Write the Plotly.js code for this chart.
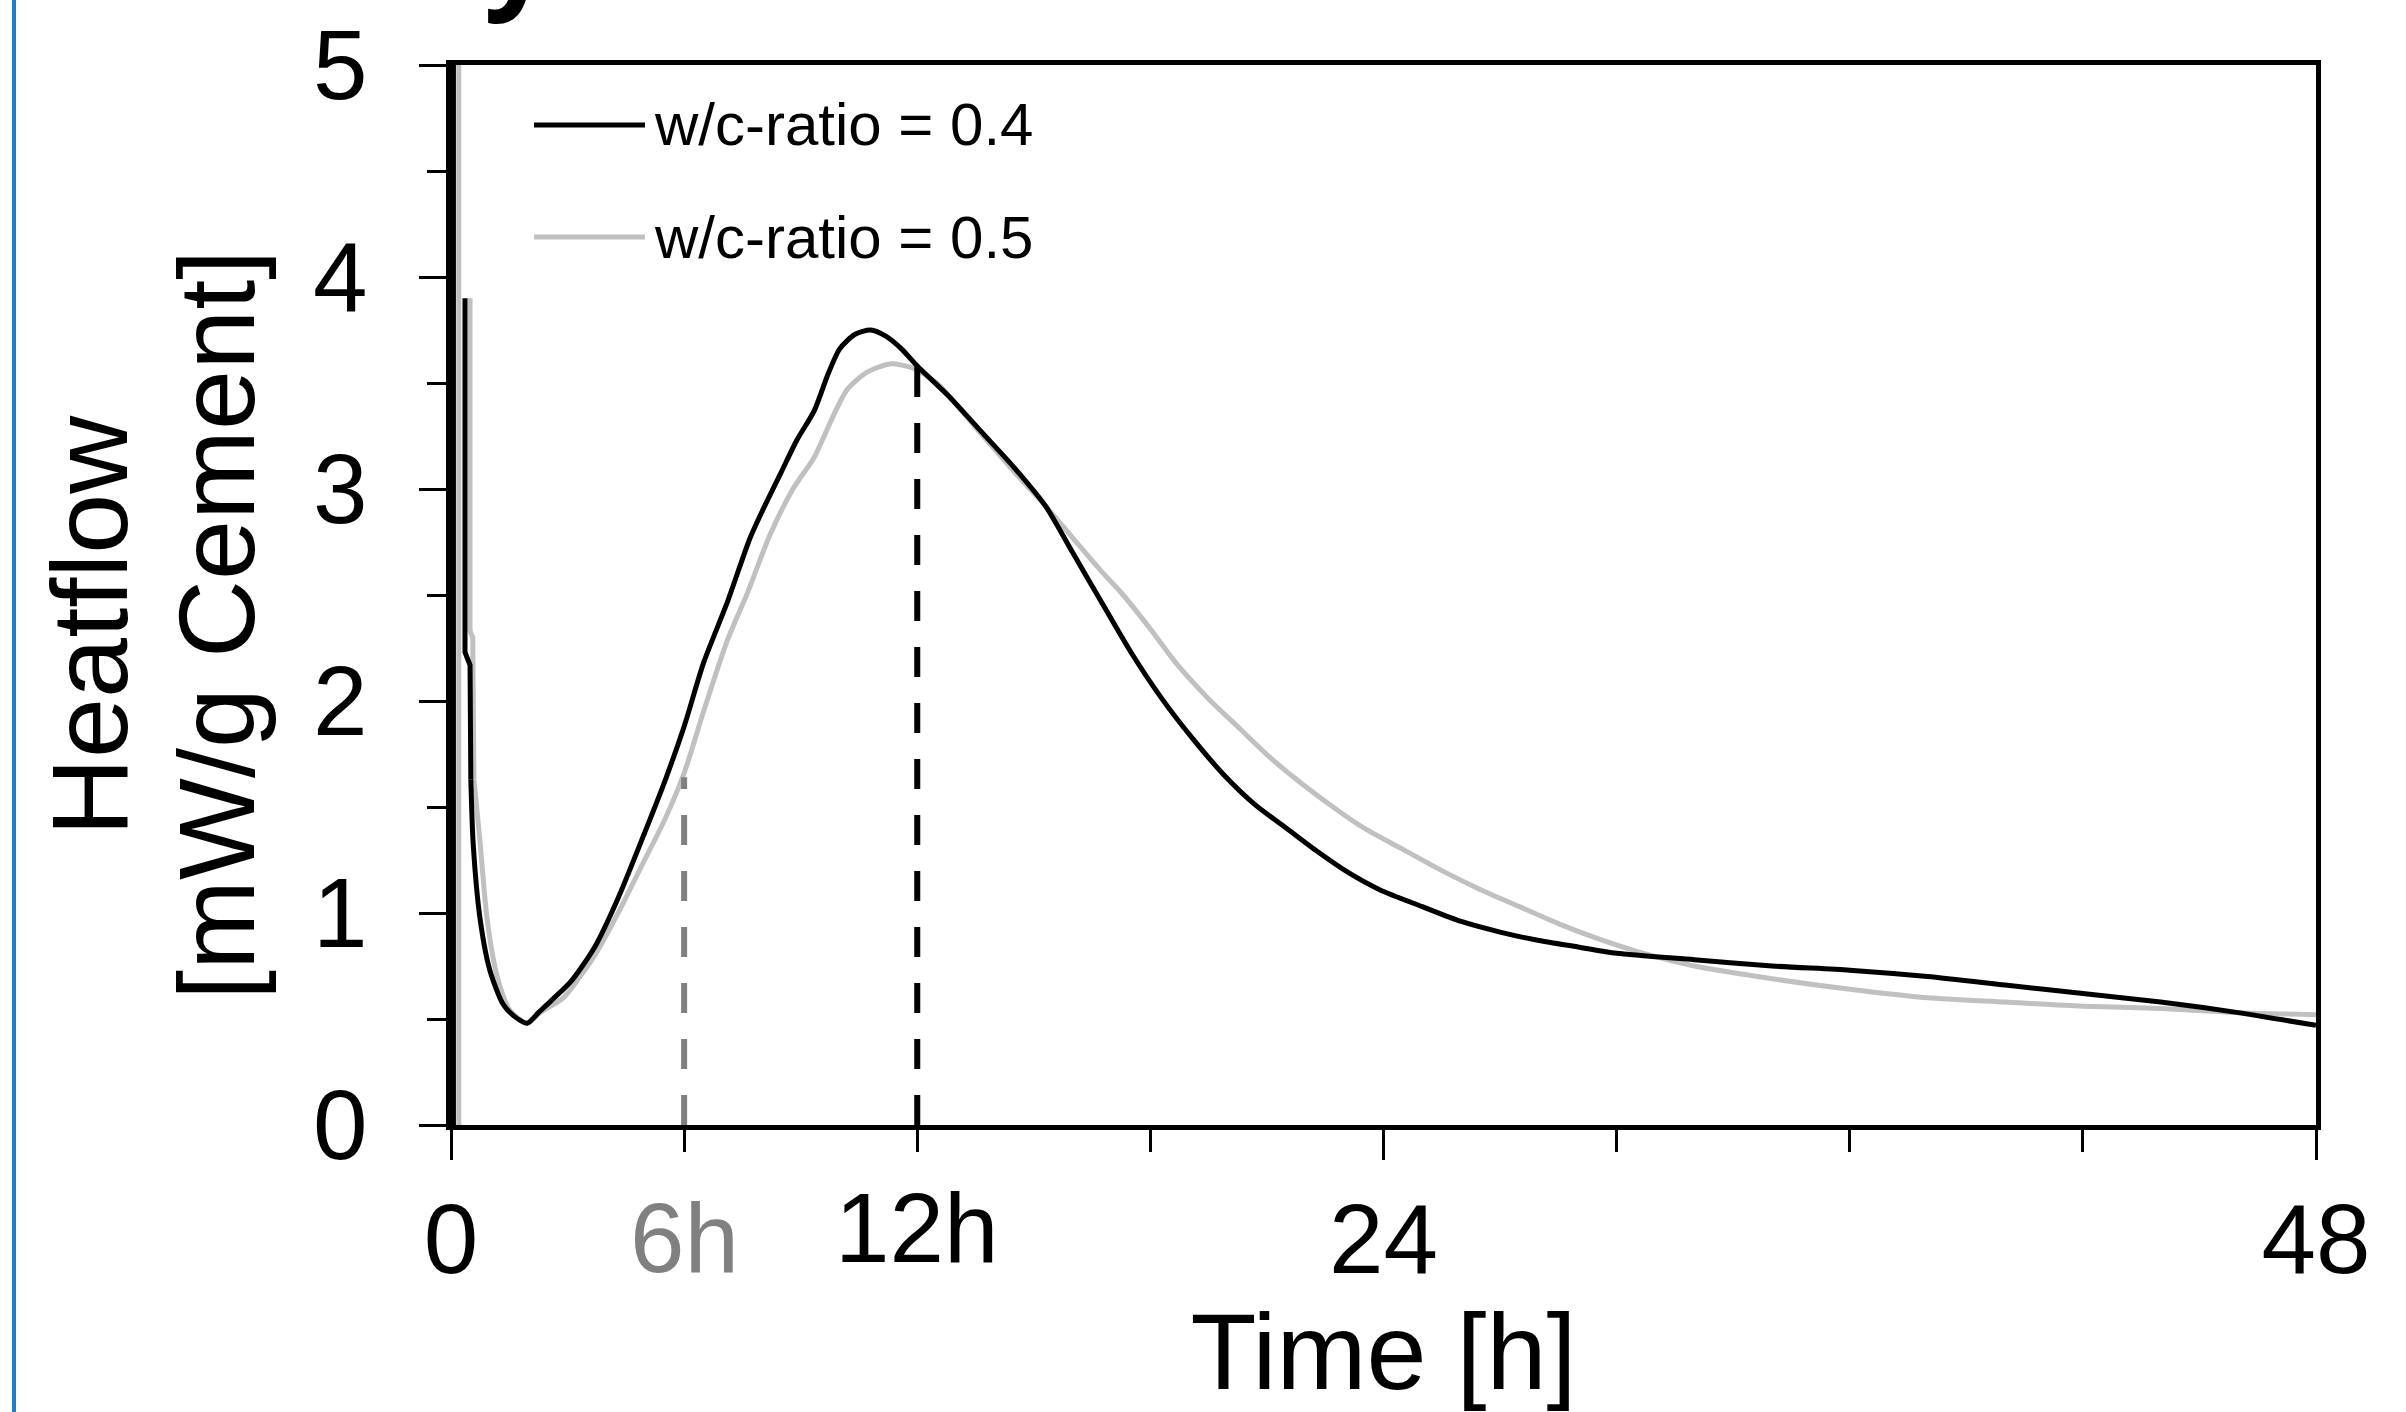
<!DOCTYPE html>
<html><head><meta charset="utf-8">
<script src="https://cdn.plot.ly/plotly-3.0.1.min.js"></script>
<style>html,body{margin:0;padding:0;background:#fff;}#chart{width:2406px;height:1412px;}</style>
</head><body><div id="chart"></div>
<script>
const seriesNames = ['w/c-ratio = 0.4', 'w/c-ratio = 0.5'];
const seriesColors = ['#000000', '#c0c0c0'];

// w/c = 0.4 (black)
const time04 = [0.05, 0.05, null, 0.36, 0.36, 0.49, 0.51, 0.57, 0.75, 1.0, 1.34, 1.65, 1.96, 2.25, 2.6, 3.1, 3.7, 4.3, 4.9, 5.5, 6.0, 6.5, 7.1, 7.7, 8.1, 8.5, 8.9, 9.35, 9.7, 10.0, 10.4, 10.8, 11.2, 11.6, 12.0, 12.8, 13.6, 14.5, 15.3, 16.0, 16.7, 17.5, 18.3, 19.1, 19.9, 20.7, 21.5, 22.3, 23.1, 23.9, 25.0, 26.0, 27.0, 28.0, 29.0, 30.0, 32.0, 34.0, 36.0, 38.0, 40.0, 42.0, 44.0, 46.0, 48.0];
const heat04 = [0, 5.6, null, 3.9, 2.23, 2.17, 1.63, 1.33, 0.97, 0.73, 0.57, 0.51, 0.48, 0.53, 0.59, 0.68, 0.84, 1.07, 1.34, 1.62, 1.88, 2.18, 2.46, 2.77, 2.93, 3.08, 3.23, 3.37, 3.54, 3.66, 3.73, 3.75, 3.72, 3.66, 3.58, 3.44, 3.28, 3.10, 2.92, 2.70, 2.48, 2.23, 2.01, 1.82, 1.65, 1.51, 1.40, 1.29, 1.19, 1.11, 1.03, 0.96, 0.91, 0.87, 0.84, 0.81, 0.78, 0.75, 0.73, 0.70, 0.66, 0.62, 0.58, 0.53, 0.47];

// w/c = 0.5 (grey)
const time05 = [0.2, 0.2, null, 0.49, 0.49, 0.56, 0.59, 0.75, 0.93, 1.19, 1.52, 1.96, 2.29, 2.89, 3.32, 3.7, 4.3, 4.9, 5.5, 6.0, 6.5, 7.1, 7.63, 8.2, 8.8, 9.35, 9.8, 10.2, 10.7, 11.3, 11.9, 12.5, 13.6, 14.5, 15.3, 16.0, 16.7, 17.3, 18.0, 18.7, 19.5, 20.3, 21.1, 21.9, 22.7, 23.5, 24.5, 25.5, 26.5, 27.5, 28.5, 29.5, 30.5, 32.0, 34.0, 36.0, 38.0, 40.0, 42.0, 44.0, 46.0, 48.0];
const heat05 = [0, 5.6, null, 3.9, 2.33, 2.3, 1.63, 1.33, 0.97, 0.70, 0.54, 0.48, 0.53, 0.60, 0.70, 0.80, 1.00, 1.22, 1.44, 1.66, 1.95, 2.28, 2.51, 2.78, 3.00, 3.15, 3.33, 3.47, 3.55, 3.59, 3.57, 3.50, 3.27, 3.08, 2.92, 2.77, 2.62, 2.50, 2.34, 2.17, 2.01, 1.87, 1.73, 1.61, 1.50, 1.40, 1.30, 1.20, 1.11, 1.03, 0.95, 0.88, 0.82, 0.75, 0.69, 0.64, 0.60, 0.58, 0.56, 0.55, 0.53, 0.52];

// marker (dashed) lines
const markerTimes = [6, 12];
const markerHeat = [1.64, 3.58];
const markerLabels = ['6h', '12h'];
const markerColors = ['#808080', '#000000'];

const xTickVals = [0, 24, 48];
const xTickText = ['0', '24', '48'];
const yTickVals = [0, 1, 2, 3, 4, 5];

const FONT = 'Liberation Sans, Arial, sans-serif';

// split a series at the first gap: initial spike (straight) + main curve (smoothed)
function splitSeries(xs, ys) {
  const g = xs.indexOf(null);
  return [[xs.slice(0, g), ys.slice(0, g)], [xs.slice(g + 1), ys.slice(g + 1)]];
}

const traces = [];
[[time05, heat05, 1], [time04, heat04, 0]].forEach(([xs, ys, k]) => {
  const [spike, main] = splitSeries(xs, ys);
  traces.push({x: spike[0], y: spike[1], mode: 'lines', name: seriesNames[k], line: {color: seriesColors[k], width: k === 0 ? 6 : 5}, showlegend: false});
  const headN = 4;
  traces.push({x: main[0].slice(0, headN), y: main[1].slice(0, headN), mode: 'lines', name: seriesNames[k], line: {color: seriesColors[k], width: 5}, showlegend: false});
  traces.push({x: main[0].slice(headN - 1), y: main[1].slice(headN - 1), mode: 'lines', name: seriesNames[k], line: {color: seriesColors[k], width: 5, shape: 'spline', smoothing: 0.7}, showlegend: false});
});
markerTimes.forEach((t, i) => {
  traces.push({x: [t, t], y: [0, markerHeat[i]], mode: 'lines', line: {color: markerColors[i], width: 6, dash: '30px,26px'}, showlegend: false, hoverinfo: 'skip'});
});

const annotations = [];
markerTimes.forEach((t, i) => {
  annotations.push({x: t, xref: 'x', y: 0, yref: 'paper', yanchor: 'top', xanchor: 'center',
    yshift: i === 0 ? -56 : -46, text: markerLabels[i], showarrow: false,
    font: {family: FONT, size: 98, color: markerColors[i]}});
});
// y title (two lines)
annotations.push({xref: 'paper', yref: 'paper', x: -0.1936, y: 0.4717, xanchor: 'center', yanchor: 'middle', textangle: -90,
  text: 'Heatflow', showarrow: false, font: {family: FONT, size: 108, color: '#000'}});
annotations.push({xref: 'paper', yref: 'paper', x: -0.1255, y: 0.4717, xanchor: 'center', yanchor: 'middle', textangle: -90,
  text: '[mW/g Cement]', showarrow: false, font: {family: FONT, size: 108, color: '#000'}});
// legend text
const legendY = [0.9434, 0.8377];
seriesNames.forEach((n, i) => {
  annotations.push({xref: 'paper', yref: 'paper', x: 0.1078, y: legendY[i], xanchor: 'left', yanchor: 'middle',
    text: n, showarrow: false, font: {family: FONT, size: 60, color: '#000'}});
});
// cut-off title glyph at the top
annotations.push({xref: 'paper', yref: 'paper', x: 0.0166, y: 1.0312, xanchor: 'left', yanchor: 'bottom',
  text: '<b>y</b>', showarrow: false, font: {family: 'Open Sans, sans-serif', size: 120, color: '#000'}});

const shapes = [
  {type: 'line', xref: 'paper', yref: 'paper', x0: -0.2343, x1: -0.2343, y0: -0.4, y1: 1.2, line: {color: '#1f7bc4', width: 4}},
];
seriesNames.forEach((n, i) => {
  shapes.push({type: 'line', xref: 'paper', yref: 'paper', x0: 0.0445, x1: 0.104, y0: legendY[i], y1: legendY[i],
    line: {color: seriesColors[i], width: 5}});
});

const layout = {
  width: 2406, height: 1412,
  margin: {l: 451, r: 90, t: 65, b: 287},
  paper_bgcolor: '#fff', plot_bgcolor: '#fff',
  showlegend: false,
  xaxis: {
    range: [0, 48], showgrid: false, zeroline: false,
    showline: true, linecolor: '#000', linewidth: 5, mirror: true,
    ticks: 'outside', tickvals: xTickVals, ticktext: xTickText, ticklen: 30, tickwidth: 3, tickcolor: '#000',
    minor: {tick0: 0, dtick: 6, ticks: 'outside', ticklen: 22, tickwidth: 3, tickcolor: '#000', showgrid: false},
    tickfont: {family: FONT, size: 98, color: '#000'},
    ticklabelstandoff: -5,
    title: {text: 'Time [h]', font: {family: FONT, size: 108, color: '#000'}, standoff: 55}
  },
  yaxis: {
    range: [0, 5], showgrid: false, zeroline: false,
    showline: true, linecolor: '#000', linewidth: 5, mirror: true,
    ticks: 'outside', tickvals: yTickVals, ticklen: 27, tickwidth: 3, tickcolor: '#000',
    minor: {tick0: 0, dtick: 0.5, ticks: 'outside', ticklen: 19, tickwidth: 3, tickcolor: '#000', showgrid: false},
    tickfont: {family: FONT, size: 98, color: '#000'},
    ticklabelstandoff: 32
  },
  annotations: annotations,
  shapes: shapes
};

Plotly.newPlot('chart', traces, layout, {staticPlot: true, displayModeBar: false});
</script></body></html>
